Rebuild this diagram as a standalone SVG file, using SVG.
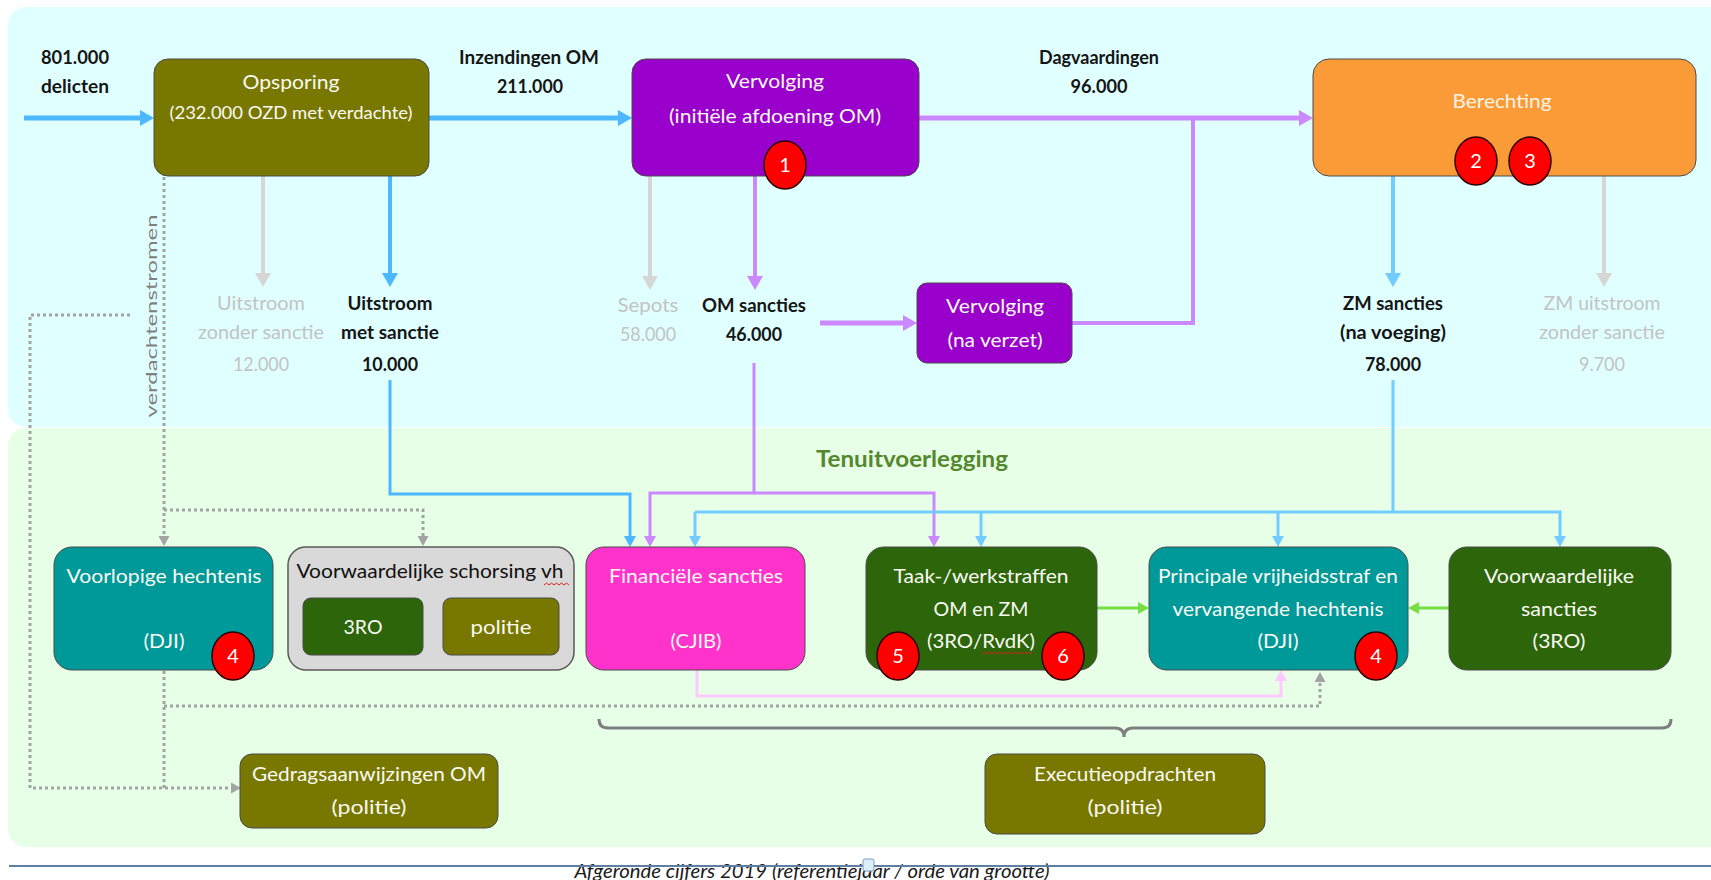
<svg xmlns="http://www.w3.org/2000/svg" width="1711" height="880" viewBox="0 0 1711 880">
<style>
.t{font-family:Lato,'Liberation Sans',sans-serif;font-size:20px;text-anchor:middle}
.w{fill:#FAFAF2}
.b{font-weight:bold;fill:#151515;font-size:19px}
.g{fill:#C3C3C3}
.k{fill:#111111}
.box{stroke:#4a4a4a;stroke-width:1}
.badge{fill:#FF0000;stroke:#2a0000;stroke-width:1.5}
.bt{font-family:Lato,'Liberation Sans',sans-serif;font-size:20px;text-anchor:middle;fill:#FFFFFF}
.ln{fill:none;stroke-linejoin:miter}
.dot{fill:none;stroke:#A3A3A3;stroke-width:3;stroke-dasharray:3 3}
</style>
<defs>
<marker id="aB" markerUnits="userSpaceOnUse" markerWidth="14" markerHeight="16" refX="3" refY="8" orient="auto"><path d="M0,0 L14,8 L0,16 Z" fill="#4DB8FF"/></marker>
<marker id="aBs" markerUnits="userSpaceOnUse" markerWidth="11" markerHeight="12" refX="2" refY="6" orient="auto"><path d="M0,0 L11,6 L0,12 Z" fill="#4DB8FF"/></marker>
<marker id="aL" markerUnits="userSpaceOnUse" markerWidth="14" markerHeight="16" refX="3" refY="8" orient="auto"><path d="M0,0 L14,8 L0,16 Z" fill="#72CCFF"/></marker>
<marker id="aLs" markerUnits="userSpaceOnUse" markerWidth="11" markerHeight="12" refX="2" refY="6" orient="auto"><path d="M0,0 L11,6 L0,12 Z" fill="#72CCFF"/></marker>
<marker id="aP" markerUnits="userSpaceOnUse" markerWidth="14" markerHeight="16" refX="3" refY="8" orient="auto"><path d="M0,0 L14,8 L0,16 Z" fill="#CC88FF"/></marker>
<marker id="aPs" markerUnits="userSpaceOnUse" markerWidth="11" markerHeight="12" refX="2" refY="6" orient="auto"><path d="M0,0 L11,6 L0,12 Z" fill="#CC88FF"/></marker>
<marker id="aG" markerUnits="userSpaceOnUse" markerWidth="14" markerHeight="16" refX="3" refY="8" orient="auto"><path d="M0,0 L14,8 L0,16 Z" fill="#D6D6D6"/></marker>
<marker id="aGr" markerUnits="userSpaceOnUse" markerWidth="11" markerHeight="12" refX="2" refY="6" orient="auto"><path d="M0,0 L11,6 L0,12 Z" fill="#77DD44"/></marker>
<marker id="aPk" markerUnits="userSpaceOnUse" markerWidth="11" markerHeight="12" refX="2" refY="6" orient="auto"><path d="M0,0 L11,6 L0,12 Z" fill="#FFC8FF"/></marker>
<marker id="aD" markerUnits="userSpaceOnUse" markerWidth="10" markerHeight="11" refX="1" refY="5.5" orient="auto"><path d="M0,0 L10,5.5 L0,11 Z" fill="#A3A3A3"/></marker>
</defs>

<rect width="1711" height="880" fill="#FFFFFF"/>
<g id="backgrounds">
<rect x="8" y="7" width="1720" height="420" rx="18" fill="#E0FFFF"/>
<rect x="8" y="428" width="1720" height="419" rx="18" fill="#E6FFE6"/>
<text class="t" x="912" y="467" style="font-size:22px;font-weight:bold;fill:#55882E" textLength="192" lengthAdjust="spacingAndGlyphs">Tenuitvoerlegging</text>
</g>

<g id="connectors">
<!-- blue main flow -->
<path class="ln" d="M24,118 H143" stroke="#4DB8FF" stroke-width="5" marker-end="url(#aB)"/>
<path class="ln" d="M429,118 H621" stroke="#4DB8FF" stroke-width="5" marker-end="url(#aB)"/>
<path class="ln" d="M390,176 V276" stroke="#4DB8FF" stroke-width="4" marker-end="url(#aB)"/>
<path class="ln" d="M390,380 V494 H630 V538" stroke="#4DB8FF" stroke-width="3" marker-end="url(#aBs)"/>
<!-- grey outflows -->
<path class="ln" d="M263,176 V276" stroke="#D6D6D6" stroke-width="4" marker-end="url(#aG)"/>
<path class="ln" d="M650,176 V279" stroke="#D6D6D6" stroke-width="4" marker-end="url(#aG)"/>
<path class="ln" d="M1604,176 V276" stroke="#D6D6D6" stroke-width="4" marker-end="url(#aG)"/>
<!-- purple -->
<path class="ln" d="M919,118 H1302" stroke="#CC88FF" stroke-width="5" marker-end="url(#aP)"/>
<path class="ln" d="M1193,118 V323 H1072" stroke="#CC88FF" stroke-width="4"/>
<path class="ln" d="M820,323 H906" stroke="#CC88FF" stroke-width="5" marker-end="url(#aP)"/>
<path class="ln" d="M755,176 V279" stroke="#CC88FF" stroke-width="4" marker-end="url(#aP)"/>
<path class="ln" d="M754,363 V493 H650 V538" stroke="#CC88FF" stroke-width="3" marker-end="url(#aPs)"/>
<path class="ln" d="M754,493 H934 V538" stroke="#CC88FF" stroke-width="3" marker-end="url(#aPs)"/>
<!-- light blue from Berechting -->
<path class="ln" d="M1393,176 V276" stroke="#72CCFF" stroke-width="4" marker-end="url(#aL)"/>
<path class="ln" d="M1393,380 V512" stroke="#72CCFF" stroke-width="3"/>
<path class="ln" d="M695,512 H1560 V538" stroke="#72CCFF" stroke-width="3" marker-end="url(#aLs)"/>
<path class="ln" d="M695,512 V538" stroke="#72CCFF" stroke-width="3" marker-end="url(#aLs)"/>
<path class="ln" d="M981,512 V538" stroke="#72CCFF" stroke-width="3" marker-end="url(#aLs)"/>
<path class="ln" d="M1278,512 V538" stroke="#72CCFF" stroke-width="3" marker-end="url(#aLs)"/>
<!-- green -->
<path class="ln" d="M1097,608 H1140" stroke="#77DD44" stroke-width="3" marker-end="url(#aGr)"/>
<path class="ln" d="M1449,608 H1417" stroke="#77DD44" stroke-width="3" marker-end="url(#aGr)"/>
<!-- pink -->
<path class="ln" d="M697,670 V696 H1281 V679" stroke="#FFC8FF" stroke-width="3" marker-end="url(#aPk)"/>
<!-- dotted suspect flows -->
<path class="dot" d="M164,177 V537" marker-end="url(#aD)"/>
<path class="dot" d="M164,510 H423 V537" marker-end="url(#aD)"/>
<path class="dot" d="M130,315 H30 V788 H232" marker-end="url(#aD)"/>
<path class="dot" d="M164,671 V788"/>
<path class="dot" d="M164,706 H1320 V681" marker-end="url(#aD)"/>
<!-- brace -->
<path class="ln" d="M599,719 Q599,728 608,728 H1115 Q1124,728 1124,737 Q1124,728 1133,728 H1662 Q1671,728 1671,719" stroke="#7F7F7F" stroke-width="3"/>
</g>

<g id="labels">
<text class="t b" x="75" y="64" textLength="68" lengthAdjust="spacingAndGlyphs">801.000</text>
<text class="t b" x="75" y="93" textLength="68" lengthAdjust="spacingAndGlyphs">delicten</text>
<text class="t b" x="529" y="64" textLength="140" lengthAdjust="spacingAndGlyphs">Inzendingen OM</text>
<text class="t b" x="530" y="93" textLength="66" lengthAdjust="spacingAndGlyphs">211.000</text>
<text class="t b" x="1099" y="64" textLength="120" lengthAdjust="spacingAndGlyphs">Dagvaardingen</text>
<text class="t b" x="1099" y="93" textLength="57" lengthAdjust="spacingAndGlyphs">96.000</text>
<text class="t g" x="261" y="310" textLength="88" lengthAdjust="spacingAndGlyphs">Uitstroom</text>
<text class="t g" x="261" y="339" textLength="126" lengthAdjust="spacingAndGlyphs">zonder sanctie</text>
<text class="t g" x="261" y="371" textLength="56" lengthAdjust="spacingAndGlyphs">12.000</text>
<text class="t b" x="390" y="310" textLength="85" lengthAdjust="spacingAndGlyphs">Uitstroom</text>
<text class="t b" x="390" y="339" textLength="98" lengthAdjust="spacingAndGlyphs">met sanctie</text>
<text class="t b" x="390" y="371" textLength="56" lengthAdjust="spacingAndGlyphs">10.000</text>
<text class="t g" x="648" y="312" textLength="61" lengthAdjust="spacingAndGlyphs">Sepots</text>
<text class="t g" x="648" y="341" textLength="56" lengthAdjust="spacingAndGlyphs">58.000</text>
<text class="t b" x="754" y="312" textLength="104" lengthAdjust="spacingAndGlyphs">OM sancties</text>
<text class="t b" x="754" y="341" textLength="56" lengthAdjust="spacingAndGlyphs">46.000</text>
<text class="t b" x="1393" y="310" textLength="100" lengthAdjust="spacingAndGlyphs">ZM sancties</text>
<text class="t b" x="1393" y="339" textLength="106" lengthAdjust="spacingAndGlyphs">(na voeging)</text>
<text class="t b" x="1393" y="371" textLength="56" lengthAdjust="spacingAndGlyphs">78.000</text>
<text class="t g" x="1602" y="310" textLength="117" lengthAdjust="spacingAndGlyphs">ZM uitstroom</text>
<text class="t g" x="1602" y="339" textLength="126" lengthAdjust="spacingAndGlyphs">zonder sanctie</text>
<text class="t g" x="1602" y="371" textLength="46" lengthAdjust="spacingAndGlyphs">9.700</text>
<text class="t" transform="translate(157,316) rotate(-90)" style="font-size:16px;fill:#808080" textLength="203" lengthAdjust="spacingAndGlyphs">verdachtenstromen</text>
</g>

<g id="opsporing">
<rect class="box" x="154" y="59" width="275" height="117" rx="14" fill="#787800"/>
<text class="t w" x="291" y="89" textLength="97" lengthAdjust="spacingAndGlyphs">Opsporing</text>
<text class="t w" x="291" y="119" style="font-size:18px" textLength="243" lengthAdjust="spacingAndGlyphs">(232.000 OZD   met verdachte)</text>
</g>

<g id="vervolging">
<rect class="box" x="632" y="59" width="287" height="117" rx="14" fill="#9900CC"/>
<text class="t w" x="775" y="88" textLength="98" lengthAdjust="spacingAndGlyphs">Vervolging</text>
<text class="t w" x="775" y="123" textLength="212" lengthAdjust="spacingAndGlyphs">(initiële afdoening OM)</text>
<ellipse class="badge" cx="785" cy="165" rx="21" ry="24"/>
<text class="bt" x="785" y="172">1</text>
</g>

<g id="berechting">
<rect class="box" x="1313" y="59" width="383" height="117" rx="16" fill="#FB9B37"/>
<text class="t" x="1502" y="108" style="fill:#FFF4E6" textLength="99" lengthAdjust="spacingAndGlyphs">Berechting</text>
<ellipse class="badge" cx="1476" cy="161" rx="21" ry="24"/>
<text class="bt" x="1476" y="168">2</text>
<ellipse class="badge" cx="1530" cy="161" rx="21" ry="24"/>
<text class="bt" x="1530" y="168">3</text>
</g>

<g id="vervolging-verzet">
<rect class="box" x="917" y="283" width="155" height="80" rx="10" fill="#9900CC"/>
<text class="t w" x="995" y="313" textLength="98" lengthAdjust="spacingAndGlyphs">Vervolging</text>
<text class="t w" x="995" y="347" textLength="95" lengthAdjust="spacingAndGlyphs">(na verzet)</text>
</g>

<g id="voorlopige-hechtenis">
<rect class="box" x="54" y="547" width="219" height="123" rx="18" fill="#009999"/>
<text class="t w" x="164" y="583" textLength="195" lengthAdjust="spacingAndGlyphs">Voorlopige hechtenis</text>
<text class="t w" x="164" y="648" textLength="41" lengthAdjust="spacingAndGlyphs">(DJI)</text>
<ellipse class="badge" cx="233" cy="656" rx="21" ry="24"/>
<text class="bt" x="233" y="663">4</text>
</g>

<g id="voorwaardelijke-schorsing">
<rect x="288" y="547" width="286" height="123" rx="18" fill="#D9D9D9" stroke="#595959" stroke-width="1.5"/>
<text class="t k" x="430" y="578" textLength="267" lengthAdjust="spacingAndGlyphs">Voorwaardelijke schorsing vh</text>
<path d="M544,585 l2.5,-2 l2.5,2 l2.5,-2 l2.5,2 l2.5,-2 l2.5,2 l2.5,-2 l2.5,2 l2.5,-2 l2.5,2" fill="none" stroke="#E02020" stroke-width="1"/>
<rect class="box" x="303" y="598" width="120" height="57" rx="8" fill="#2D650B"/>
<text class="t w" x="363" y="634" textLength="39" lengthAdjust="spacingAndGlyphs">3RO</text>
<rect class="box" x="443" y="598" width="116" height="57" rx="8" fill="#787800"/>
<text class="t w" x="501" y="634" textLength="61" lengthAdjust="spacingAndGlyphs">politie</text>
</g>

<g id="financiele-sancties">
<rect class="box" x="586" y="547" width="219" height="123" rx="18" fill="#FF33CC"/>
<text class="t w" x="696" y="583" textLength="174" lengthAdjust="spacingAndGlyphs">Financiële sancties</text>
<text class="t w" x="696" y="648" textLength="51" lengthAdjust="spacingAndGlyphs">(CJIB)</text>
</g>

<g id="taakstraffen">
<rect class="box" x="866" y="547" width="231" height="123" rx="18" fill="#2D650B"/>
<text class="t w" x="981" y="583" textLength="175" lengthAdjust="spacingAndGlyphs">Taak-/werkstraffen</text>
<text class="t w" x="981" y="616" textLength="95" lengthAdjust="spacingAndGlyphs">OM en ZM</text>
<text class="t w" x="981" y="648" textLength="108" lengthAdjust="spacingAndGlyphs">(3RO/RvdK)</text>
<path d="M982,654 l2.5,-2 l2.5,2 l2.5,-2 l2.5,2 l2.5,-2 l2.5,2 l2.5,-2 l2.5,2 l2.5,-2 l2.5,2 l2.5,-2 l2.5,2 l2.5,-2 l2.5,2 l2.5,-2 l2.5,2 l2.5,-2 l2.5,2 l2.5,-2 l2.5,2" fill="none" stroke="#E02020" stroke-width="1"/>
<ellipse class="badge" cx="898" cy="656" rx="21" ry="24"/>
<text class="bt" x="898" y="663">5</text>
<ellipse class="badge" cx="1063" cy="656" rx="21" ry="24"/>
<text class="bt" x="1063" y="663">6</text>
</g>

<g id="principale-vrijheidsstraf">
<rect class="box" x="1149" y="547" width="259" height="123" rx="18" fill="#009999"/>
<text class="t w" x="1278" y="583" textLength="240" lengthAdjust="spacingAndGlyphs">Principale vrijheidsstraf en</text>
<text class="t w" x="1278" y="616" textLength="211" lengthAdjust="spacingAndGlyphs">vervangende hechtenis</text>
<text class="t w" x="1278" y="648" textLength="41" lengthAdjust="spacingAndGlyphs">(DJI)</text>
<ellipse class="badge" cx="1376" cy="656" rx="21" ry="24"/>
<text class="bt" x="1376" y="663">4</text>
</g>

<g id="voorwaardelijke-sancties">
<rect class="box" x="1449" y="547" width="222" height="123" rx="18" fill="#2D650B"/>
<text class="t w" x="1559" y="583" textLength="150" lengthAdjust="spacingAndGlyphs">Voorwaardelijke</text>
<text class="t w" x="1559" y="616" textLength="76" lengthAdjust="spacingAndGlyphs">sancties</text>
<text class="t w" x="1559" y="648" textLength="53" lengthAdjust="spacingAndGlyphs">(3RO)</text>
</g>

<g id="gedragsaanwijzingen">
<rect class="box" x="240" y="754" width="258" height="74" rx="12" fill="#787800"/>
<text class="t w" x="369" y="781" textLength="234" lengthAdjust="spacingAndGlyphs">Gedragsaanwijzingen OM</text>
<text class="t w" x="369" y="814" textLength="75" lengthAdjust="spacingAndGlyphs">(politie)</text>
</g>

<g id="executieopdrachten">
<rect class="box" x="985" y="754" width="280" height="80" rx="12" fill="#787800"/>
<text class="t w" x="1125" y="781" textLength="182" lengthAdjust="spacingAndGlyphs">Executieopdrachten</text>
<text class="t w" x="1125" y="814" textLength="75" lengthAdjust="spacingAndGlyphs">(politie)</text>
</g>

<g id="caption">
<text class="t" x="812" y="878" style="font-style:italic;fill:#1a1a1a" textLength="475" lengthAdjust="spacingAndGlyphs">Afgeronde cijfers 2019 (referentiejaar / orde van grootte)</text>
<line x1="9" y1="866" x2="1711" y2="866" stroke="#5C7FA3" stroke-width="2"/>
<rect x="863" y="859" width="11" height="12" rx="2" fill="#DDEEFF" stroke="#7A9CC0" stroke-width="1"/>
</g>
</svg>
